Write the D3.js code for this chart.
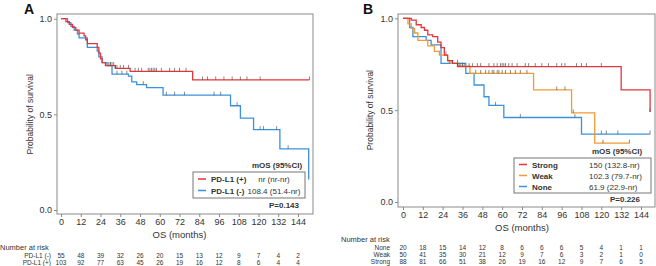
<!DOCTYPE html>
<html>
<head>
<meta charset="utf-8">
<script src="https://cdn.jsdelivr.net/npm/d3@7"></script>
<style>
body { margin: 0; background: #fff; }
text { font-family: "Liberation Sans", Arial, sans-serif; fill: #333; }
</style>
</head>
<body>
<svg id="chart" width="656" height="266"></svg>
<script>
// ---- data ----
var monthTicks = [0, 12, 24, 36, 48, 60, 72, 84, 96, 108, 120, 132, 144];
var survTicks = [0, 0.5, 1];

// panel A, step points [month, survival]
var pdl1Pos = [[0,1],[3,0.985],[5,0.97],[7,0.955],[9,0.94],[11,0.925],[14,0.91],[15,0.89],[16,0.87],
    [22,0.85],[23,0.82],[24,0.79],[25,0.77],[27,0.755],[33,0.74],[42,0.725],[80,0.68],[151,0.68]];
var pdl1PosCens = [29,30,31,32,33,34,36,38,41,45,47,49,53,54,55,56,57,58,61,66,69,72,76,86,89,94,99,104,109,113,121,151];
var pdl1Neg = [[0,1],[4,0.98],[6,0.96],[8,0.94],[10,0.92],[11,0.90],[16,0.85],[22,0.83],[23,0.80],[25,0.77],
    [28,0.755],[31,0.71],[41,0.70],[43,0.67],[46,0.655],[52,0.64],[62,0.60],[103,0.545],[109,0.48],
    [117,0.42],[133,0.32],[150.5,0.16]];
var pdl1NegCens = [30,34,37,40,50,64,69,75,93,97,107,121,123,131,138];

// panel B
var strong = [[0,1],[5,0.99],[8,0.965],[11,0.95],[13,0.935],[15,0.91],[18,0.90],[21,0.87],[23,0.84],
    [25,0.80],[27,0.77],[30,0.755],[33,0.737],[132,0.61],[149.5,0.49]];
var strongCens = [26,30,33,35,37,40,42,45,47,52,55,57,59,60,61,62,64,66,69,74,76,80,84,88,93,96,98,105,108,111,120,149.5];
var weak = [[0,1],[3,0.97],[5,0.945],[7,0.92],[9,0.88],[15,0.85],[19,0.82],[22,0.80],[27,0.77],[29,0.755],
    [33,0.74],[40.5,0.70],[79,0.61],[102,0.485],[116,0.32],[137,0.32]];
var weakCens = [34,36,44,47,50,52,54,55,57,58,60,62,65,68,71,75,93,98,103,121,137];
var none = [[0,1],[4,0.95],[6,0.90],[14,0.88],[17,0.855],[23,0.755],[38,0.70],[43,0.637],[49,0.573],
    [52,0.526],[61,0.46],[108,0.37],[149.5,0.37]];
var noneCens = [28,33,56,71,104,120,123,130,149.5];

// numbers at risk
var riskNegA = [55,48,39,32,26,20,15,13,12,9,7,4,2];
var riskPosA = [103,92,77,63,45,26,19,16,12,8,6,4,4];
var riskNone = [20,18,15,14,12,8,6,6,6,5,4,1,1];
var riskWeak = [50,41,35,30,21,12,9,7,6,3,2,1,0];
var riskStrong = [88,81,66,51,38,26,19,16,12,9,7,6,5];

var red = "#e5353b", blue = "#3b92dc", orange = "#f29a33";

var svg = d3.select("#chart");

function survAt(pts, t) {
    var s = pts[0][1];
    pts.forEach(function(p) { if (p[0] <= t) s = p[1]; });
    return s;
}

function panel(cfg) {
    var g = svg.append("g");
    var x = d3.scaleLinear().domain([0, 144]).range([cfg.x0, cfg.x144]);
    var y = d3.scaleLinear().domain([0, 1]).range([cfg.y0, cfg.y1]);

    // frame
    g.append("rect")
        .attr("x", cfg.left).attr("y", cfg.top)
        .attr("width", cfg.right - cfg.left).attr("height", cfg.bottom - cfg.top)
        .attr("fill", "none").attr("stroke", "#8a8a8a").attr("stroke-width", 1);

    var ya = g.append("g")
        .attr("transform", "translate(" + cfg.left + ",0)")
        .call(d3.axisLeft(y).tickValues(survTicks).tickFormat(d3.format(".1f")).tickSize(3).tickPadding(2));
    ya.select(".domain").remove();
    var xa = g.append("g")
        .attr("transform", "translate(0," + cfg.bottom + ")")
        .call(d3.axisBottom(x).tickValues(monthTicks).tickSize(3).tickPadding(2));
    xa.select(".domain").remove();
    g.selectAll(".tick line").attr("stroke", "#8a8a8a");
    g.selectAll(".tick text").style("font-size", "9px").style("fill", "#333")
        .style("font-family", "Liberation Sans, Arial, sans-serif");

    g.append("text")
        .attr("transform", "translate(" + cfg.ylabX + "," + ((cfg.y0 + cfg.y1) / 2) + ") rotate(-90)")
        .attr("text-anchor", "middle").style("font-size", "8.5px")
        .text("Probability of survival");
    g.append("text")
        .attr("x", (cfg.x0 + cfg.x144) / 2).attr("y", cfg.xlabY)
        .attr("text-anchor", "middle").style("font-size", "9.5px")
        .text("OS (months)");
    g.append("text")
        .attr("x", cfg.tagX).attr("y", 14)
        .style("font-size", "14px").style("font-weight", "bold").style("fill", "#111")
        .text(cfg.tag);

    var line = d3.line()
        .x(function(d) { return x(d[0]); })
        .y(function(d) { return y(d[1]); })
        .curve(d3.curveStepAfter);

    cfg.curves.forEach(function(c) {
        g.append("path").datum(c.pts)
            .attr("fill", "none").attr("stroke", c.color).attr("stroke-width", 1.3)
            .attr("d", line);
    });
    cfg.curves.forEach(function(c) {
        g.selectAll(null).data(c.cens).enter().append("line")
            .attr("x1", function(t) { return x(t); })
            .attr("x2", function(t) { return x(t); })
            .attr("y1", function(t) { return y(survAt(c.pts, t)) - 3.5; })
            .attr("y2", function(t) { return y(survAt(c.pts, t)); })
            .attr("stroke", "#555").attr("stroke-width", 0.7);
    });

    // legend
    var L = cfg.legend;
    g.append("text").attr("x", L.headX).attr("y", L.headY)
        .attr("text-anchor", "middle").style("font-size", "8px").style("font-weight", "bold")
        .text("mOS  (95%CI)");
    g.append("rect").attr("x", L.x).attr("y", L.y).attr("width", L.w).attr("height", L.h)
        .attr("fill", "#fff").attr("stroke", "#777").attr("stroke-width", 1);
    L.rows.forEach(function(r, i) {
        var ry = L.y + L.rowY0 + i * L.rowStep;
        g.append("line").attr("x1", L.x + 5).attr("x2", L.x + 13).attr("y1", ry).attr("y2", ry)
            .attr("stroke", r.color).attr("stroke-width", 1.5);
        g.append("text").attr("x", L.x + 18).attr("y", ry + 3)
            .style("font-size", "8px").style("font-weight", "bold").text(r.name);
        g.append("text").attr("x", L.valX).attr("y", ry + 3)
            .attr("text-anchor", L.valAnchor).style("font-size", "8px").text(r.value);
    });
    g.append("text").attr("x", L.pX).attr("y", L.pY)
        .attr("text-anchor", "end").style("font-size", "8px").style("font-weight", "bold")
        .text(L.p);

    // numbers at risk
    g.append("text").attr("x", cfg.riskTitleX).attr("y", cfg.riskY0)
        .style("font-size", "7.5px").text("Number at risk");
    cfg.risk.forEach(function(r, i) {
        var ry = cfg.riskY0 + 8 + i * cfg.riskStep;
        g.append("text").attr("x", cfg.riskLabX).attr("y", ry)
            .attr("text-anchor", "end").style("font-size", "6.5px").text(r.name);
        g.selectAll(null).data(r.vals).enter().append("text")
            .attr("x", function(v, j) { return x(monthTicks[j]); })
            .attr("y", ry)
            .attr("text-anchor", "middle").style("font-size", "6.5px")
            .text(function(v) { return v; });
    });
}

panel({
    tag: "A", tagX: 24,
    left: 57, right: 313, top: 14, bottom: 214,
    x0: 61, x144: 298, y0: 210, y1: 18.7,
    ylabX: 33, xlabY: 238,
    curves: [
        {pts: pdl1Neg, cens: pdl1NegCens, color: blue},
        {pts: pdl1Pos, cens: pdl1PosCens, color: red}
    ],
    legend: {
        x: 193, y: 172, w: 112, h: 26, rowY0: 7, rowStep: 11.5,
        headX: 277, headY: 168, valX: 274, valAnchor: "middle",
        pX: 299, pY: 208, p: "P=0.143",
        rows: [
            {name: "PD-L1 (+)", value: "nr (nr-nr)", color: red},
            {name: "PD-L1 (-)", value: "108.4 (51.4-nr)", color: blue}
        ]
    },
    riskTitleX: 0, riskY0: 250, riskStep: 7, riskLabX: 51,
    risk: [
        {name: "PD-L1 (-)", vals: riskNegA},
        {name: "PD-L1 (+)", vals: riskPosA}
    ]
});

panel({
    tag: "B", tagX: 363,
    left: 398, right: 655, top: 14, bottom: 207,
    x0: 403, x144: 641, y0: 202, y1: 18.3,
    ylabX: 373, xlabY: 231,
    curves: [
        {pts: none, cens: noneCens, color: blue},
        {pts: weak, cens: weakCens, color: orange},
        {pts: strong, cens: strongCens, color: red}
    ],
    legend: {
        x: 514, y: 158, w: 137, h: 35, rowY0: 6.5, rowStep: 11,
        headX: 617, headY: 154, valX: 589, valAnchor: "start",
        pX: 640, pY: 202, p: "P=0.226",
        rows: [
            {name: "Strong", value: "150 (132.8-nr)", color: red},
            {name: "Weak", value: "102.3 (79.7-nr)", color: orange},
            {name: "None", value: "61.9 (22.9-nr)", color: blue}
        ]
    },
    riskTitleX: 341, riskY0: 242, riskStep: 7, riskLabX: 390,
    risk: [
        {name: "None", vals: riskNone},
        {name: "Weak", vals: riskWeak},
        {name: "Strong", vals: riskStrong}
    ]
});
</script>
</body>
</html>
